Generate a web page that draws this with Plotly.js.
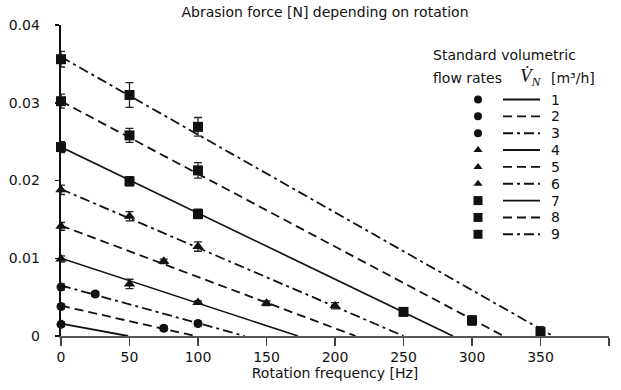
<!DOCTYPE html>
<html>
<head>
<meta charset="utf-8">
<script src="https://cdn.plot.ly/plotly-3.0.1.min.js"></script>
<style>html,body{margin:0;padding:0;background:#fff;}#chart{width:621px;height:390px;}</style>
</head>
<body>
<div id="chart"></div>
<script>
// ---- Data ----
const seriesLabels = ['1','2','3','4','5','6','7','8','9'];
const s1x = [0];                 const s1y = [0.0015];                          const s1e = [0.0003];
const s2x = [0, 75];             const s2y = [0.0038, 0.0010];                  const s2e = [0.0003, 0.0003];
const s3x = [0, 25, 100];        const s3y = [0.0063, 0.0054, 0.0016];          const s3e = [0.0004, 0.0003, 0.0003];
const s4x = [0, 50, 100];        const s4y = [0.0099, 0.0067, 0.0043];          const s4e = [0.0004, 0.0006, 0.0002];
const s5x = [0, 75, 150];        const s5y = [0.0141, 0.0096, 0.0042];          const s5e = [0.0005, 0.0003, 0.0003];
const s6x = [0, 50, 100, 200];   const s6y = [0.0188, 0.0154, 0.0115, 0.0039];  const s6e = [0.0006, 0.0006, 0.0006, 0.0004];
const s7x = [0, 50, 100, 250];   const s7y = [0.0243, 0.0199, 0.0157, 0.0031];  const s7e = [0.0007, 0.0006, 0.0006, 0.0005];
const s8x = [0, 50, 100, 300];   const s8y = [0.0302, 0.0258, 0.0213, 0.0020];  const s8e = [0.0009, 0.0009, 0.0010, 0.0006];
const s9x = [0, 50, 100, 350];   const s9y = [0.0356, 0.0310, 0.0269, 0.0005];  const s9e = [0.0010, 0.0016, 0.0012, 0.0007];
// fitted lines: value at 0 Hz and frequency where force reaches 0
const fitIntercept = [0.0016, 0.0039, 0.0065, 0.0100, 0.0142, 0.0189, 0.0243, 0.0302, 0.0359];
const fitZero      = [49, 98, 134, 173, 215, 250, 286, 323, 359];
const xTicks = [0, 50, 100, 150, 200, 250, 300, 350, 400];
const yTicks = [0, 0.01, 0.02, 0.03, 0.04];
const yTickText = ['0', '0.01', '0.02', '0.03', '0.04'];

// ---- Styles ----
const allX = [s1x,s2x,s3x,s4x,s5x,s6x,s7x,s8x,s9x];
const allY = [s1y,s2y,s3y,s4y,s5y,s6y,s7y,s8y,s9y];
const allE = [s1e,s2e,s3e,s4e,s5e,s6e,s7e,s8e,s9e];
const symbols = ['circle','circle','circle','triangle-up','triangle-up','triangle-up','square','square','square'];
const msize   = [9,9,9,10,10,10,10,10,10];
const legSize = [8,8,8,8,8,8,9,9,9];
const DASH = '9px,5px', DASHDOT = '10px,4px,3px,4px';
const dashes  = ['solid',DASH,DASHDOT,'solid',DASH,DASHDOT,'solid',DASH,DASHDOT];
const lw      = [1.9,1.8,1.8,1.6,1.8,1.8,1.7,1.8,1.8];
const INK = '#111';
const FONT = 'DejaVu Sans';

const traces = [];
for (let i = 0; i < 9; i++) {
  traces.push({
    x: [0, fitZero[i]], y: [fitIntercept[i], 0], mode: 'lines', type: 'scatter',
    line: {color: INK, width: lw[i], dash: dashes[i]}, showlegend: false, hoverinfo: 'skip'
  });
}
for (let i = 0; i < 9; i++) {
  traces.push({
    x: allX[i], y: allY[i], mode: 'markers', type: 'scatter', cliponaxis: false,
    marker: {symbol: symbols[i], size: msize[i], color: INK},
    error_y: {type: 'data', array: allE[i], visible: true, color: '#222', thickness: 1.3, width: 4},
    showlegend: false, name: seriesLabels[i]
  });
}
// ---- Custom legend on an overlay axis measured in pixels ----
const rowY = seriesLabels.map((_, i) => 99.5 + i * 16.85);
for (let i = 0; i < 9; i++) {
  traces.push({
    x: [478], y: [rowY[i]], xaxis: 'x2', yaxis: 'y2', mode: 'markers', cliponaxis: false,
    marker: {symbol: symbols[i], size: legSize[i], color: INK}, showlegend: false, hoverinfo: 'skip'
  });
  traces.push({
    x: [503, 540], y: [rowY[i], rowY[i]], xaxis: 'x2', yaxis: 'y2', mode: 'lines', cliponaxis: false,
    line: {color: INK, width: 1.9, dash: dashes[i]}, showlegend: false, hoverinfo: 'skip'
  });
}
const annotations = seriesLabels.map((t, i) => ({
  x: 549, y: rowY[i], xref: 'x2', yref: 'y2', text: t, showarrow: false,
  xanchor: 'left', yanchor: 'middle', font: {family: FONT, size: 14, color: INK}
}));
annotations.push({
  x: 431, y: 55, xref: 'x2', yref: 'y2', text: 'Standard volumetric', showarrow: false,
  xanchor: 'left', yanchor: 'middle', font: {family: FONT, size: 14, color: INK}
});
annotations.push({
  x: 431, y: 78, xref: 'x2', yref: 'y2', text: 'flow rates', showarrow: false,
  xanchor: 'left', yanchor: 'middle', font: {family: FONT, size: 14, color: INK}
});
annotations.push({
  x: 518, y: 77, xref: 'x2', yref: 'y2', text: '<i>V̇<sub>N</sub></i>', showarrow: false,
  xanchor: 'left', yanchor: 'middle', font: {family: 'Liberation Serif', size: 19, color: INK}
});
annotations.push({
  x: 549, y: 78, xref: 'x2', yref: 'y2', text: '[m³/h]', showarrow: false,
  xanchor: 'left', yanchor: 'middle', font: {family: FONT, size: 14, color: INK}
});

const layout = {
  width: 621, height: 390,
  margin: {l: 61, r: 12, t: 25, b: 54},
  paper_bgcolor: '#fff', plot_bgcolor: '#fff',
  font: {family: FONT, size: 14, color: INK},
  title: {text: 'Abrasion force [N] depending on rotation', x: 325/621, xref: 'container', xanchor: 'center',
          y: 1 - 12/390, yref: 'container', yanchor: 'middle', font: {family: FONT, size: 14, color: INK}},
  xaxis: {range: [0, 400], tickvals: xTicks, ticks: 'outside', ticklen: 8, tickwidth: 1.6, tickcolor: '#444',
          showline: true, linecolor: '#555', linewidth: 1.6, showgrid: false, zeroline: false,
          tickfont: {family: FONT, size: 14, color: INK},
          title: {text: 'Rotation frequency [Hz]', standoff: 4, font: {family: FONT, size: 14, color: INK}}},
  yaxis: {range: [0, 0.04], tickvals: yTicks, ticktext: yTickText, ticks: 'outside', ticklen: 4, tickwidth: 1.5,
          tickcolor: INK, showline: true, linecolor: INK, linewidth: 2.4, showgrid: false, zeroline: false,
          ticklabelstandoff: 12, tickfont: {family: FONT, size: 14, color: INK}},
  xaxis2: {overlaying: 'x', anchor: 'y2', range: [61, 609], visible: false, fixedrange: true},
  yaxis2: {overlaying: 'y', anchor: 'x2', range: [336, 25], visible: false, fixedrange: true},
  annotations: annotations,
  showlegend: false
};
Plotly.newPlot('chart', traces, layout, {staticPlot: true, displayModeBar: false});
</script>
</body>
</html>
